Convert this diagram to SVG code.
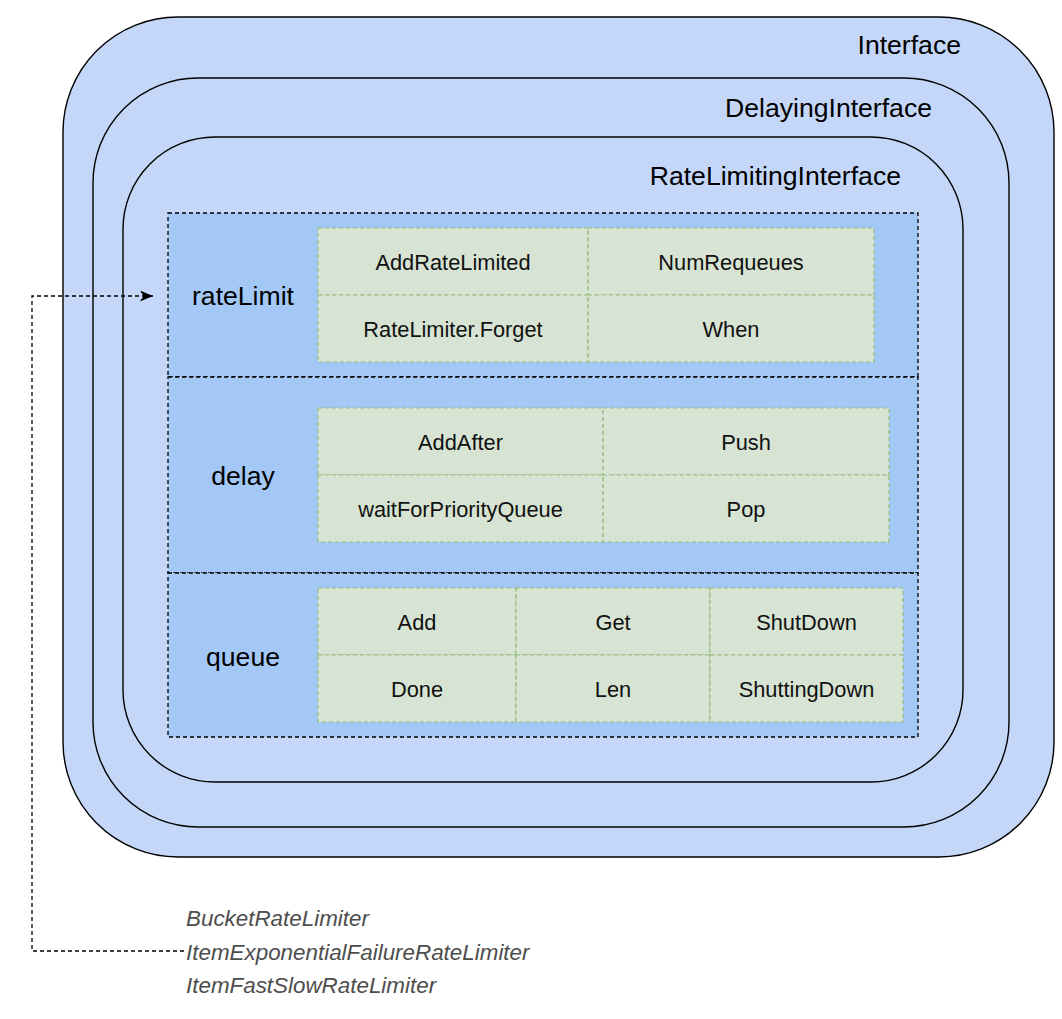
<svg xmlns="http://www.w3.org/2000/svg" width="1062" height="1019" viewBox="0 0 1062 1019">
  <defs>
    <style>
      .shell { fill: #C5D7F8; stroke: #000; stroke-width: 1.4; }
      .section { fill: #A4C8F6; stroke: #000; stroke-width: 1.3; stroke-dasharray: 4 3; }
      .cell { fill: #D7E4D3; stroke: #93BB79; stroke-width: 1.2; stroke-dasharray: 4 3; }
      .title { font-family: "Liberation Sans", Arial, Helvetica, sans-serif; font-size: 26.6px; fill: #000; text-anchor: end; }
      .label { font-family: "Liberation Sans", Arial, Helvetica, sans-serif; font-size: 26.6px; fill: #000; text-anchor: middle; }
      .method { font-family: "Liberation Sans", Arial, Helvetica, sans-serif; font-size: 21.8px; fill: #111; text-anchor: middle; }
      .impl { font-family: "Liberation Sans", Arial, Helvetica, sans-serif; font-size: 22.4px; font-style: italic; fill: #4D4D4D; }
      .link { fill: none; stroke: #000; stroke-width: 1.3; stroke-dasharray: 4 3; }
    </style>
    <marker id="arrow" viewBox="0 0 13 11" refX="13" refY="5.5" markerWidth="13" markerHeight="11" markerUnits="userSpaceOnUse" orient="auto">
      <path d="M0,0 L13,5.5 L0,11 L3.5,5.5 Z" fill="#000"/>
    </marker>
  </defs>

  <rect width="1062" height="1019" fill="#fff"/>

  <!-- nested interface shells -->
  <g id="interface">
    <rect class="shell" x="63" y="17" width="991" height="840" rx="115" ry="115"/>
    <text class="title" x="961" y="54">Interface</text>
  </g>
  <g id="delaying-interface">
    <rect class="shell" x="93" y="78" width="916" height="749" rx="105" ry="105"/>
    <text class="title" x="932" y="117">DelayingInterface</text>
  </g>
  <g id="rate-limiting-interface">
    <rect class="shell" x="123" y="137" width="840" height="645" rx="92" ry="92"/>
    <text class="title" x="901" y="185">RateLimitingInterface</text>
  </g>

  <!-- rateLimit section -->
  <g id="rate-limit">
    <rect class="section" x="168" y="213" width="750" height="164"/>
    <text class="label" x="243" y="304.5">rateLimit</text>
    <rect class="cell" x="318" y="228" width="270" height="67"/>
    <rect class="cell" x="588" y="228" width="286" height="67"/>
    <rect class="cell" x="318" y="295" width="270" height="67"/>
    <rect class="cell" x="588" y="295" width="286" height="67"/>
    <text class="method" x="453" y="269.5">AddRateLimited</text>
    <text class="method" x="731" y="269.5">NumRequeues</text>
    <text class="method" x="453" y="336.5">RateLimiter.Forget</text>
    <text class="method" x="731" y="336.5">When</text>
  </g>

  <!-- delay section -->
  <g id="delay">
    <rect class="section" x="168" y="377" width="750" height="196"/>
    <text class="label" x="243" y="485">delay</text>
    <rect class="cell" x="318" y="408" width="285" height="67"/>
    <rect class="cell" x="603" y="408" width="286" height="67"/>
    <rect class="cell" x="318" y="475" width="285" height="67"/>
    <rect class="cell" x="603" y="475" width="286" height="67"/>
    <text class="method" x="460.5" y="449.5">AddAfter</text>
    <text class="method" x="746" y="449.5">Push</text>
    <text class="method" x="460.5" y="516.5">waitForPriorityQueue</text>
    <text class="method" x="746" y="516.5">Pop</text>
  </g>

  <!-- queue section -->
  <g id="queue">
    <rect class="section" x="168" y="573" width="750" height="164"/>
    <text class="label" x="243" y="666">queue</text>
    <rect class="cell" x="318" y="588" width="198" height="67"/>
    <rect class="cell" x="516" y="588" width="194" height="67"/>
    <rect class="cell" x="710" y="588" width="193" height="67"/>
    <rect class="cell" x="318" y="655" width="198" height="67"/>
    <rect class="cell" x="516" y="655" width="194" height="67"/>
    <rect class="cell" x="710" y="655" width="193" height="67"/>
    <text class="method" x="417" y="629.5">Add</text>
    <text class="method" x="613" y="629.5">Get</text>
    <text class="method" x="806.5" y="629.5">ShutDown</text>
    <text class="method" x="417" y="696.5">Done</text>
    <text class="method" x="613" y="696.5">Len</text>
    <text class="method" x="806.5" y="696.5">ShuttingDown</text>
  </g>

  <!-- rate limiter implementations -->
  <g id="rate-limiters">
    <text class="impl" x="186" y="926">BucketRateLimiter</text>
    <text class="impl" x="186" y="960">ItemExponentialFailureRateLimiter</text>
    <text class="impl" x="186" y="993">ItemFastSlowRateLimiter</text>
  </g>

  <!-- connectors -->
  <g id="connectors">
    <path class="link" d="M184,951 L32,951 L32,296 L153,296" marker-end="url(#arrow)"/>
  </g>
</svg>
